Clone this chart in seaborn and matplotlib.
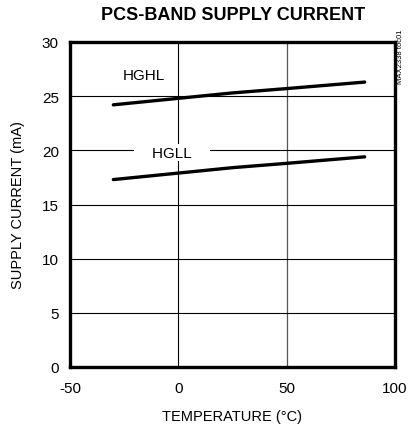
import matplotlib
matplotlib.use('Agg')
import matplotlib.pyplot as plt
import numpy as np
import pandas as pd
import seaborn as sns

temps = [-30, 0, 25, 50, 86]
hghl = [24.2, 24.8, 25.3, 25.7, 26.3]
hgll = [17.3, 17.9, 18.4, 18.8, 19.4]

df = pd.DataFrame({
    'temp': temps * 2,
    'current': hghl + hgll,
    'mode': ['HGHL'] * len(temps) + ['HGLL'] * len(temps),
})

sns.set_style('white')
plt.rcParams['font.family'] = ['Liberation Sans', 'DejaVu Sans']
plt.rcParams['axes.unicode_minus'] = False
plt.rcParams['text.color'] = 'black'
plt.rcParams['axes.labelcolor'] = 'black'
plt.rcParams['xtick.color'] = 'black'
plt.rcParams['ytick.color'] = 'black'

fig = plt.figure(figsize=(4.08, 4.31), dpi=100)
ax = fig.add_axes([70 / 408, 63 / 431, 325 / 408, 325 / 431])

sns.lineplot(data=df, x='temp', y='current', units='mode', estimator=None,
             color='black', linewidth=2.4, ax=ax, legend=False)

ax.set_xlim(-50, 100)
ax.set_ylim(0, 30)
ax.set_xticks([-50, 0, 50, 100])
ax.set_yticks([0, 5, 10, 15, 20, 25, 30])
ax.axvline(0, color='black', linewidth=0.8, zorder=0)
ax.axvline(50, color='#555555', linewidth=0.9, zorder=0)
for v in [5, 10, 15, 20, 25]:
    ax.axhline(v, color='black', linewidth=0.8, zorder=0)

for s in ax.spines.values():
    s.set_linewidth(2.4)
    s.set_color('black')

ax.tick_params(axis='x', length=0, labelsize=11, pad=10)
ax.tick_params(axis='y', length=0, labelsize=11, pad=8)
ax.set_xlabel('TEMPERATURE (°C)', fontsize=10.5, labelpad=10)
ax.set_ylabel('SUPPLY CURRENT (mA)', fontsize=10.5, labelpad=12)

ax.text(-16, 27.0, 'HGHL', fontsize=11, ha='center', va='center')
ax.text(-3, 19.8, '    HGLL    ', fontsize=11, ha='center', va='center',
        zorder=1.5, bbox=dict(facecolor='white', edgecolor='none', pad=1))

fig.text(233 / 408, 1 - 15 / 431, 'PCS-BAND SUPPLY CURRENT', fontsize=13,
         fontweight='bold', ha='center', va='center')
fig.text(401 / 408, 1 - 57 / 431, 'MAX2338 toc01', fontsize=5.5,
         rotation=90, ha='center', va='center')

fig.savefig('out.png', dpi=100)
